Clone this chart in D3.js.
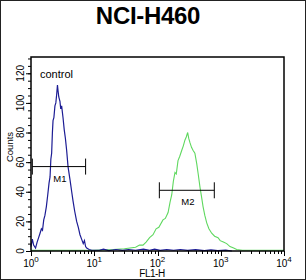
<!DOCTYPE html>
<html>
<head>
<meta charset="utf-8">
<script src="https://cdn.jsdelivr.net/npm/d3@7"></script>
<style>
  body { margin: 0; background: #fff; }
  svg { display: block; font-family: "Liberation Sans", Arial, sans-serif; }
</style>
</head>
<body>
<div id="chart"></div>
<script>
// control histogram (blue)
var controlFL = [1.00, 1.05, 1.10, 1.18, 1.25, 1.32, 1.39, 1.46, 1.52, 1.59, 1.66, 1.75, 1.84, 1.93, 2.00, 2.06, 2.12, 2.18, 2.23, 2.30, 2.39, 2.47, 2.55, 2.62, 2.68, 2.75, 2.87, 2.95, 3.05, 3.21, 3.35, 3.50, 3.66, 3.85, 4.14, 4.40, 4.61, 4.90, 5.27, 5.60, 5.95, 6.31, 6.70, 7.00, 7.30, 7.59, 8.30, 9.12, 10, 12, 14, 17, 22, 28, 35, 45, 60, 75, 90, 110, 140, 180, 230, 300, 400, 550, 700, 900, 1200, 1500];
var controlCounts = [3, 8, 4, 2, 6, 9, 12, 15, 14, 21, 24, 30, 38, 46, 50, 62, 66, 80, 88, 90, 98, 100, 106, 112, 108, 104, 101, 96, 98, 90, 82, 76, 68, 57, 48, 40, 34, 27, 20, 16, 11, 8, 5, 7, 3, 2, 1, 0.5, 0.5, 0.5, 1.2, 0.3, 1, 0.4, 1, 0.5, 1.2, 0.5, 1.3, 0.4, 1, 0.5, 1, 0.4, 0.9, 0.3, 0.8, 0.3, 0.6, 0];

// sample histogram (green)
var sampleFL = [1, 10, 20, 30, 36.7, 45, 52, 59, 66, 75, 85, 95, 105, 122, 133, 147, 158, 168, 178, 189, 198, 211, 225, 242, 256, 272, 285, 300, 312, 327, 345, 364, 390, 417, 440, 470, 495, 525, 560, 600, 650, 719, 800, 906, 980, 1100, 1242, 1400, 1600, 1786, 2200, 10000];
var sampleCounts = [0.5, 0.5, 1, 1.5, 2, 2.5, 4, 4, 6, 9, 11, 15, 16, 21, 22, 26, 33, 38, 47, 53, 52, 61, 64, 68, 71, 75, 77, 80, 76, 73, 70, 68, 66, 59, 52, 43, 37, 30, 24, 19, 15, 12, 10, 9, 7, 6, 5, 3, 2, 1, 0.5, 0.5];

// gates
var markerNames = ["M1", "M2"];
var markerFrom = [1.05, 107];
var markerTo = [7.3, 791];
var markerLevel = [57, 41];

var yMajor = [0, 20, 40, 60, 80, 100, 120];
var xDecades = [1, 10, 100, 1000, 10000];
var xExp = ["0", "1", "2", "3", "4"];

var W = 306, H = 280;
var svg = d3.select("#chart").append("svg")
  .attr("width", W)
  .attr("height", H);

svg.append("rect")
  .attr("x", 0.5).attr("y", 0.5)
  .attr("width", W - 1).attr("height", H - 1)
  .attr("fill", "#fff")
  .attr("stroke", "#222");

var x = d3.scaleLog().domain([1, 10000]).range([31, 284]);
var y = d3.scaleLinear().domain([0, 131]).range([251, 57]);

svg.append("text")
  .attr("x", 148).attr("y", 24)
  .attr("text-anchor", "middle")
  .attr("font-size", 24)
  .attr("font-weight", "bold")
  .attr("letter-spacing", -0.3)
  .text("NCI-H460");

// y axis ticks
var yMinor = d3.range(0, 131, 5);
svg.selectAll(".yminor").data(yMinor).enter().append("line")
  .attr("x1", 28).attr("x2", 31)
  .attr("y1", function(d){return y(d) + 0.5;})
  .attr("y2", function(d){return y(d) + 0.5;})
  .attr("stroke", "#000");
svg.selectAll(".ymajor").data(yMajor).enter().append("line")
  .attr("x1", 26).attr("x2", 31)
  .attr("y1", function(d){return y(d) + 0.5;})
  .attr("y2", function(d){return y(d) + 0.5;})
  .attr("stroke", "#000");
svg.selectAll(".ylab").data(yMajor).enter().append("text")
  .attr("transform", function(d){return "translate(24," + y(d) + ") rotate(-90)";})
  .attr("text-anchor", "middle")
  .attr("font-size", 10)
  .text(function(d){return d;});
svg.append("text")
  .attr("transform", "translate(13,147) rotate(-90)")
  .attr("text-anchor", "middle")
  .attr("font-size", 9.5)
  .text("Counts");

// x axis ticks
var xMinor = [];
for (var i = 0; i < 4; i++) {
  for (var k = 2; k < 10; k++) xMinor.push(xDecades[i] * k);
}
svg.selectAll(".xminor").data(xMinor).enter().append("line")
  .attr("x1", function(d){return Math.round(x(d)) + 0.5;})
  .attr("x2", function(d){return Math.round(x(d)) + 0.5;})
  .attr("y1", 251).attr("y2", 254)
  .attr("stroke", "#000");
svg.selectAll(".xmajor").data(xDecades).enter().append("line")
  .attr("x1", function(d){return Math.round(x(d)) + 0.5;})
  .attr("x2", function(d){return Math.round(x(d)) + 0.5;})
  .attr("y1", 251).attr("y2", 256)
  .attr("stroke", "#000");
var xl = svg.selectAll(".xlab").data(xDecades).enter().append("text")
  .attr("x", function(d){return x(d);})
  .attr("y", 267)
  .attr("text-anchor", "middle")
  .attr("font-size", 10);
xl.append("tspan").text("10");
xl.append("tspan")
  .attr("dy", -5)
  .attr("font-size", 8)
  .text(function(d, i){return xExp[i];});
svg.append("text")
  .attr("x", 152).attr("y", 277)
  .attr("text-anchor", "middle")
  .attr("font-size", 10)
  .attr("letter-spacing", -0.5)
  .text("FL1-H");

// histograms
var line = d3.line()
  .x(function(d){return x(d[0]);})
  .y(function(d){return y(d[1]);});

svg.append("path")
  .datum(d3.zip(sampleFL, sampleCounts))
  .attr("d", line)
  .attr("fill", "none")
  .attr("stroke", "#5fd85f")
  .attr("stroke-width", 1.1);

svg.append("path")
  .datum(d3.zip(controlFL, controlCounts))
  .attr("d", line)
  .attr("fill", "none")
  .attr("stroke", "#1c1c94")
  .attr("stroke-width", 1.2);

// plot frame
svg.append("rect")
  .attr("x", 31).attr("y", 57)
  .attr("width", 253).attr("height", 194)
  .attr("fill", "none")
  .attr("stroke", "#000")
  .attr("stroke-width", 1.5);

// markers
var gates = svg.selectAll(".gate").data(markerNames).enter().append("g");
gates.append("line")
  .attr("x1", function(d, i){return x(markerFrom[i]);})
  .attr("x2", function(d, i){return x(markerTo[i]);})
  .attr("y1", function(d, i){return y(markerLevel[i]);})
  .attr("y2", function(d, i){return y(markerLevel[i]);})
  .attr("stroke", "#000");
gates.append("line")
  .attr("x1", function(d, i){return x(markerFrom[i]);})
  .attr("x2", function(d, i){return x(markerFrom[i]);})
  .attr("y1", function(d, i){return y(markerLevel[i]) - 8;})
  .attr("y2", function(d, i){return y(markerLevel[i]) + 8;})
  .attr("stroke", "#000");
gates.append("line")
  .attr("x1", function(d, i){return x(markerTo[i]);})
  .attr("x2", function(d, i){return x(markerTo[i]);})
  .attr("y1", function(d, i){return y(markerLevel[i]) - 8;})
  .attr("y2", function(d, i){return y(markerLevel[i]) + 8;})
  .attr("stroke", "#000");
gates.append("text")
  .attr("x", function(d, i){return (x(markerFrom[i]) + x(markerTo[i])) / 2 + 1;})
  .attr("y", function(d, i){return y(markerLevel[i]) + 15;})
  .attr("text-anchor", "middle")
  .attr("font-size", 9.5)
  .text(function(d){return d;});

svg.append("text")
  .attr("x", 40).attr("y", 78)
  .attr("font-size", 11)
  .text("control");
</script>
</body>
</html>
